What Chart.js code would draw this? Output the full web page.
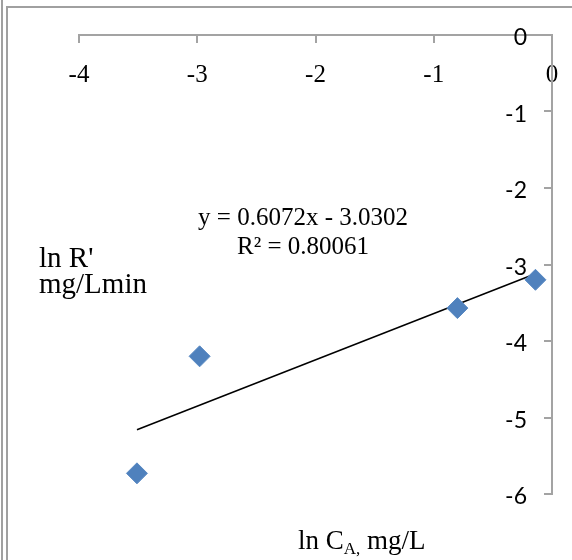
<!DOCTYPE html>
<html>
<head>
<meta charset="utf-8">
<script src="https://cdn.jsdelivr.net/npm/chart.js@4.4.1/dist/chart.umd.min.js"></script>
<style>
  html, body { margin: 0; padding: 0; background: #fff; }
  #wrap { position: relative; width: 572px; height: 560px; overflow: hidden; }
  canvas { position: absolute; left: 0; top: 0; }
  .bl { position: absolute; background: #a0a0a0; }
</style>
</head>
<body>
<div id="wrap">
  <canvas id="c" width="572" height="560"></canvas>
  <div class="bl" style="left:1px;top:0;width:2px;height:560px;"></div>
  <div class="bl" style="left:6px;top:6px;width:2px;height:554px;"></div>
  <div class="bl" style="left:6px;top:6px;width:566px;height:2px;"></div>
</div>
<script>
// ---- data ----
const lnCA = [-3.51, -2.98, -0.80, -0.14];          // x values (ln CA)
const lnR  = [-5.73, -4.20, -3.57, -3.20];          // y values (ln R')
const trendX = [-3.51, -0.14];                       // trendline ends (x)
const trendY = [-5.16, -3.12];                       // trendline ends (y)
const xTickValues = [-4, -3, -2, -1, 0];
const yTickValues = [0, -1, -2, -3, -4, -5, -6];
const equationText = "y = 0.6072x - 3.0302";
const r2Text = "R\u00B2 = 0.80061";
const yTitleLines = ["ln R'", "mg/Lmin"];
const xTitleParts = ["ln C", "A,", " mg/L"];

const AXIS_GRAY = '#a3a3a3';
const scatterPts = lnCA.map((x, i) => ({ x, y: lnR[i] }));
const trendPts = trendX.map((x, i) => ({ x, y: trendY[i] }));

const textPlugin = {
  id: 'texts',
  afterDraw(chart) {
    const ctx = chart.ctx;
    ctx.save();
    ctx.fillStyle = '#000';
    ctx.textBaseline = 'alphabetic';
    ctx.font = '25px "Liberation Serif"';
    ctx.textAlign = 'center';
    ctx.fillText(equationText, 303, 225);
    ctx.fillText(r2Text, 303, 254);
    ctx.font = '29px "Liberation Serif"';
    ctx.textAlign = 'left';
    ctx.fillText(yTitleLines[0], 39, 267);
    ctx.fillText(yTitleLines[1], 39, 293);
    let x = 298;
    const base = 549;
    ctx.font = '27px "Liberation Serif"';
    ctx.fillText(xTitleParts[0], x, base);
    x += ctx.measureText(xTitleParts[0]).width;
    ctx.font = '17px "Liberation Serif"';
    ctx.fillText(xTitleParts[1], x, base + 5);
    x += ctx.measureText(xTitleParts[1]).width;
    ctx.font = '27px "Liberation Serif"';
    ctx.fillText(xTitleParts[2], x, base);
    ctx.restore();
  }
};

function makeChart() {
  new Chart(document.getElementById('c'), {
    type: 'scatter',
    data: {
      datasets: [
        {
          label: 'data',
          data: scatterPts,
          pointStyle: 'rectRot',
          pointRadius: 10.5,
          backgroundColor: '#4f81bd',
          borderColor: '#5a8ac3',
          borderWidth: 1,
          order: 1
        },
        {
          label: 'trend',
          type: 'line',
          data: trendPts,
          showLine: true,
          borderColor: '#000',
          borderWidth: 1.5,
          pointRadius: 0,
          fill: false,
          order: 2
        }
      ]
    },
    options: {
      responsive: false,
      animation: false,
      layout: { padding: { left: 79, top: 35, right: 20, bottom: 66 } },
      plugins: { legend: { display: false }, tooltip: { enabled: false }, title: { display: false } },
      scales: {
        x: {
          type: 'linear',
          position: 'top',
          min: xTickValues[0],
          max: xTickValues[xTickValues.length - 1],
          afterFit(s) { s.height = 0; s.paddingLeft = 0; s.paddingRight = 0; s.paddingTop = 0; s.paddingBottom = 0; },
          afterBuildTicks(s) { s.ticks = xTickValues.map(v => ({ value: v })); },
          border: { display: true, color: AXIS_GRAY, width: 2 },
          grid: { drawOnChartArea: false, drawTicks: true, tickLength: -8, color: AXIS_GRAY, lineWidth: 2 },
          ticks: {
            mirror: true, padding: 25, autoSkip: false, maxRotation: 0,
            color: '#000', font: { family: 'Liberation Serif', size: 25 }
          }
        },
        y: {
          type: 'linear',
          position: 'right',
          min: yTickValues[yTickValues.length - 1],
          max: yTickValues[0],
          afterFit(s) { s.width = 0; s.paddingLeft = 0; s.paddingRight = 0; s.paddingTop = 0; s.paddingBottom = 0; },
          afterBuildTicks(s) { s.ticks = yTickValues.slice().reverse().map(v => ({ value: v })); },
          border: { display: true, color: AXIS_GRAY, width: 2 },
          grid: { drawOnChartArea: false, drawTicks: true, tickLength: -8, color: AXIS_GRAY, lineWidth: 2 },
          ticks: {
            mirror: true, padding: -25, autoSkip: false, labelOffset: 3,
            color: '#000', font: { family: '"Lato", "Open Sans", sans-serif', size: 23 }
          }
        }
      }
    },
    plugins: [textPlugin]
  });
}

Promise.all([
  document.fonts.load('23px "Lato"'),
  document.fonts.load('25px "Liberation Serif"')
]).then(makeChart, makeChart);
</script>
</body>
</html>
